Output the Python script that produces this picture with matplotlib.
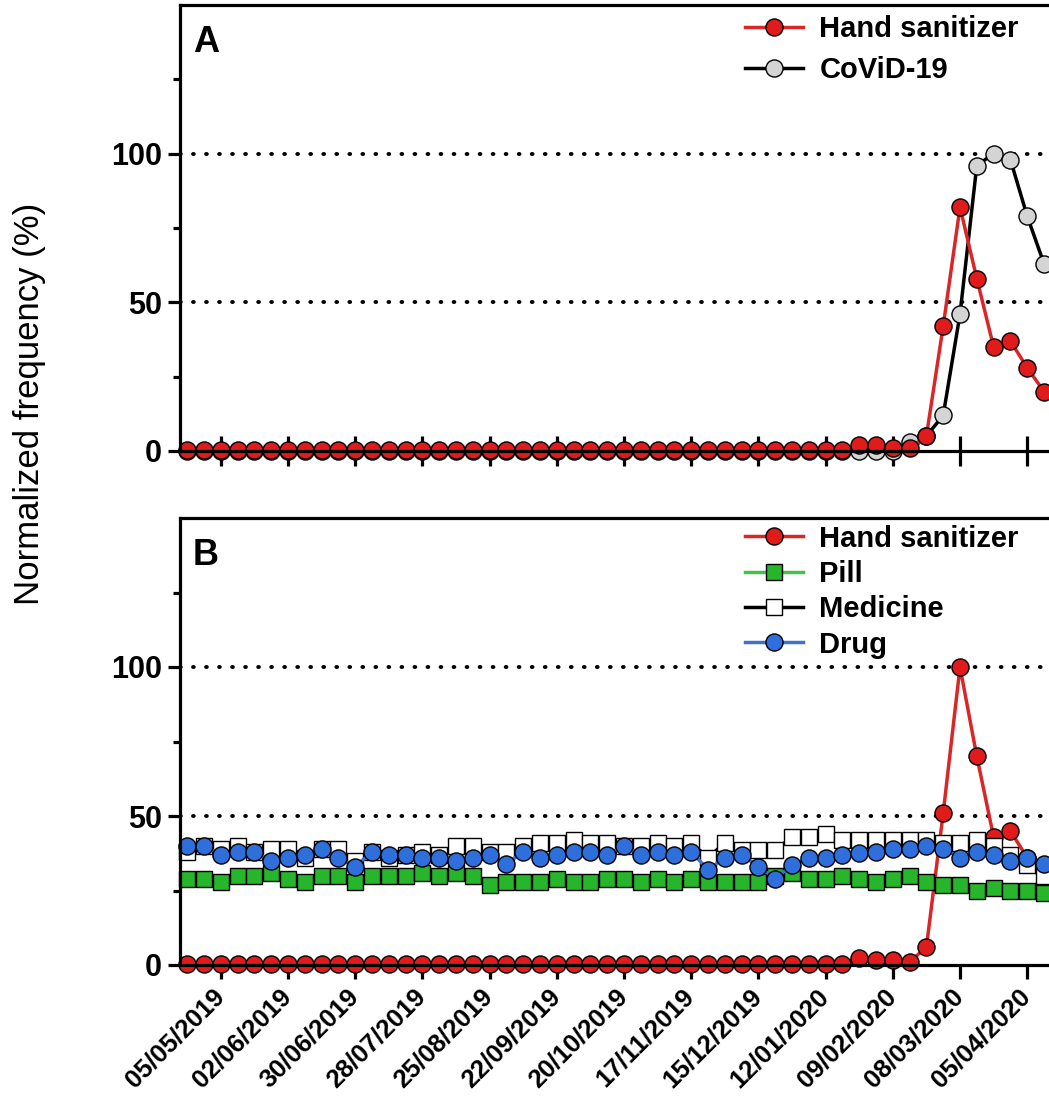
import matplotlib
matplotlib.use("Agg")
import matplotlib.pyplot as plt
import matplotlib.transforms as mtransforms
import pandas as pd

plt.rcParams["font.family"] = ["Liberation Sans", "DejaVu Sans"]
plt.rcParams["font.weight"] = "bold"

# weekly samples, first week 21/04/2019
weeks = pd.date_range("2019-04-21", periods=52, freq="7D")
tick_dates = weeks[2::4]
tick_labels = ["05/05/2019", "02/06/2019", "30/06/2019", "28/07/2019",
               "25/08/2019", "22/09/2019", "20/10/2019", "17/11/2019",
               "15/12/2019", "12/01/2020", "09/02/2020", "08/03/2020",
               "05/04/2020"]

# panel A
sanitizer_a = [0.5] * 40 + [2, 2, 1, 1, 5, 42, 82, 58, 35, 37, 28, 20]
covid_a = [0] * 43 + [3, 5, 12, 46, 96, 100, 98, 79, 63]

# panel B
sanitizer_b = [0.5] * 40 + [2.3, 1.8, 1.8, 1, 6, 51, 100, 70, 43, 45, 36, 27]
pill = [29, 29, 28, 30, 30, 31, 29, 28, 30, 30, 28, 30, 30, 30, 31, 30, 31,
        30, 27, 28, 28, 28, 29, 28, 28, 29, 29, 28, 29, 28, 29, 28, 28, 28,
        28, 30, 31, 29, 29, 30, 29, 28, 29, 30, 28, 27, 27, 25, 26, 25, 25, 24]
medicine = [38, 40, 39, 40, 38, 39, 39, 36, 39, 39, 35, 38, 36, 37, 38, 37,
            40, 40, 38, 38, 40, 41, 41, 42, 41, 41, 40, 40, 41, 40, 41, 36,
            41, 38.5, 38.5, 38.5, 43, 43, 44, 42, 42, 42, 42, 42, 42, 41, 41,
            42, 40, 37, 33.5, 30]
drug = [40, 40, 37, 38, 38, 35, 36, 37, 39, 36, 33, 38, 37, 37, 36, 36, 35,
        36, 37, 34, 38, 36, 37, 38, 38, 37, 40, 37, 38, 37, 38, 32, 36, 37,
        33, 29, 33.5, 36, 36, 37, 37.5, 38, 39, 39, 40, 39, 36, 38, 37, 35,
        36, 34]

RED_FILL, RED_LINE = "#e01b1b", "#d92626"
GRAY_FILL = "#d4d4d4"
GREEN_FILL, GREEN_LINE = "#27b52b", "#46c04a"
BLUE_FILL, BLUE_LINE = "#2f6fdc", "#3f72c8"

W, H = 1049, 1100
fig = plt.figure(figsize=(W / 100, H / 100), dpi=100)

px_week = 16.8
x0 = weeks[0] - pd.Timedelta(days=3)
x1 = weeks[0] + pd.Timedelta(weeks=54)
width_px = (54 + 3 / 7) * px_week

ax_a = fig.add_axes([180 / W, (H - 451) / H, width_px / W, 446 / H])
ax_b = fig.add_axes([180 / W, (H - 965) / H, width_px / W, 447 / H])


def series(ax, y, label, fill, line, marker="o", ms=12.3):
    ax.plot(weeks, y, color=line, lw=2.5, marker=marker, ms=ms,
            markerfacecolor=fill, markeredgecolor="black", markeredgewidth=1.0,
            label=label, clip_on=False)


def style(ax, tick_dir):
    ax.set_xlim(x0, x1)
    ax.set_ylim(0, 150)
    for side in ("top", "left", "bottom"):
        ax.spines[side].set_linewidth(2.3)
    ax.spines["right"].set_visible(False)
    ax.set_yticks([0, 50, 100])
    ax.set_yticks([25, 75, 125], minor=True)
    ax.tick_params(axis="y", which="major", length=9, width=2.3,
                   labelsize=22, pad=4)
    ax.tick_params(axis="y", which="minor", length=5, width=2.3)
    ax.set_xticks(tick_dates)
    ax.tick_params(axis="x", which="major", direction=tick_dir,
                   length=10 if tick_dir == "out" else 22, width=2.3)
    ax.tick_params(axis="x", which="minor", bottom=False)
    for yv in (50, 100):
        ax.axhline(yv, color="black", lw=2.8, ls=(0, (0.2, 3.15)),
                   dash_capstyle="round", zorder=1)


series(ax_a, covid_a, "CoViD-19", GRAY_FILL, "black")
series(ax_a, sanitizer_a, "Hand sanitizer", RED_FILL, RED_LINE)
style(ax_a, "inout")
ax_a.tick_params(axis="x", labelbottom=False)
h, l = ax_a.get_legend_handles_labels()
ax_a.legend(h[::-1], l[::-1], loc="upper left", bbox_to_anchor=(0.618, 0.978),
            frameon=False, fontsize=21, handlelength=2.0, handletextpad=0.55,
            labelspacing=0.45, borderpad=0, borderaxespad=0)
ax_a.text(0.014, 0.955, "A", transform=ax_a.transAxes, fontsize=26,
          fontweight="bold", ha="left", va="top")

series(ax_b, sanitizer_b, "Hand sanitizer", RED_FILL, RED_LINE)
series(ax_b, pill, "Pill", GREEN_FILL, GREEN_LINE, marker="s", ms=11.5)
series(ax_b, medicine, "Medicine", "white", "black", marker="s", ms=11.5)
series(ax_b, drug, "Drug", BLUE_FILL, BLUE_LINE)
style(ax_b, "out")
ax_b.set_xticklabels(tick_labels, rotation=45, ha="right", va="top",
                     rotation_mode="anchor", fontsize=18.5)
ax_b.tick_params(axis="x", pad=4)
shift = mtransforms.ScaledTranslation(-9 / 100, 0, fig.dpi_scale_trans)
for lbl in ax_b.get_xticklabels():
    lbl.set_transform(lbl.get_transform() + shift)
ax_b.legend(loc="upper left", bbox_to_anchor=(0.618, 0.985),
            frameon=False, fontsize=21, handlelength=2.0, handletextpad=0.55,
            labelspacing=0.25, borderpad=0, borderaxespad=0)
ax_b.text(0.014, 0.955, "B", transform=ax_b.transAxes, fontsize=26,
          fontweight="bold", ha="left", va="top")

fig.text(30 / W, 1 - 404 / H, "Normalized frequency (%)", rotation=90,
         fontsize=25, fontweight="normal", ha="center", va="center")

fig.savefig("out.png", dpi=100)
